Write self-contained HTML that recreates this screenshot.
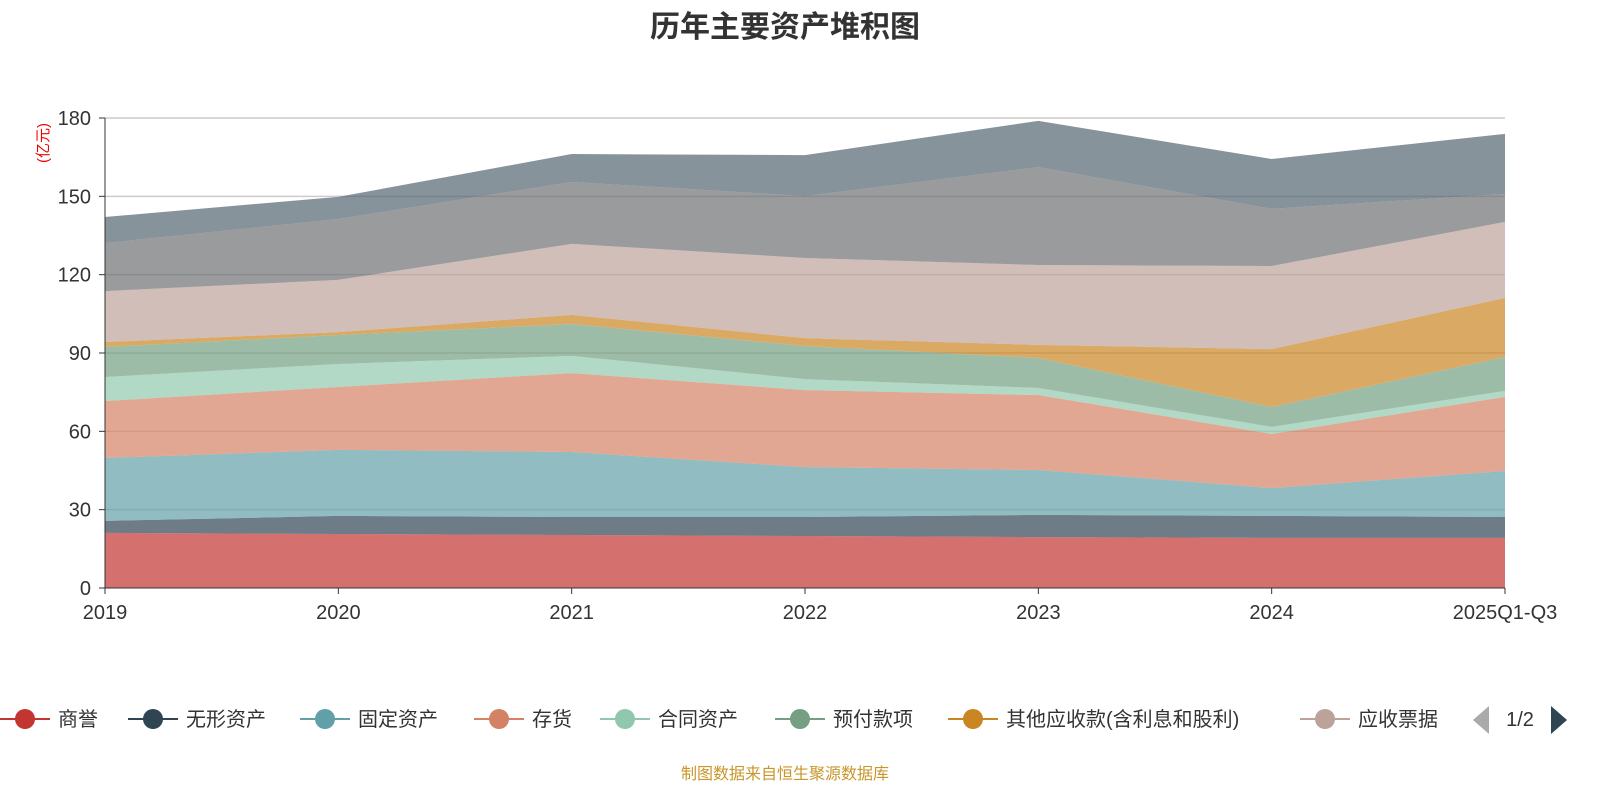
<!DOCTYPE html>
<html><head><meta charset="utf-8">
<style>
body{margin:0;background:#fff;width:1600px;height:800px;overflow:hidden;font-family:"Liberation Sans","Noto Sans CJK SC",sans-serif;}
</style></head>
<body>
<svg id="chart" width="1600" height="800" xmlns="http://www.w3.org/2000/svg" font-family="Liberation Sans, Noto Sans CJK SC, sans-serif">
<text x="785" y="37" text-anchor="middle" font-size="30" font-weight="bold" fill="#333">历年主要资产堆积图</text>
<text transform="translate(48,143) rotate(-90)" text-anchor="middle" font-size="15" fill="#e00">(亿元)</text>
<g id="grid"></g><g id="areas"></g><g id="axes"></g><g id="legend"></g>
<text x="785" y="779" text-anchor="middle" font-size="16" fill="#c8962a">制图数据来自恒生聚源数据库</text>
</svg>
<script>
const categories=["2019","2020","2021","2022","2023","2024","2025Q1-Q3"];
const seriesNames=["商誉","无形资产","固定资产","存货","合同资产","预付款项","其他应收款(含利息和股利)","应收票据","其他资产A","其他资产B"];
const s0=[21.1,20.7,20.3,19.9,19.5,19.2,19.2];
const s1=[4.6,6.9,6.9,7.3,8.5,8.4,8.0];
const s2=[24.1,25.3,24.9,19.1,17.2,10.7,17.6];
const s3=[21.8,24.1,30.2,29.5,28.7,20.7,28.4];
const s4=[9.2,8.8,6.6,4.2,2.7,2.7,2.3];
const s5=[11.5,11.1,12.2,12.7,11.5,7.6,13.0];
const s6=[1.9,1.1,3.5,3.0,5.0,22.2,22.6];
const s7=[19.5,20.0,27.2,30.7,30.6,31.8,29.1];
const s8=[18.4,23.3,23.7,23.7,37.5,21.9,10.7];
const s9=[10.0,8.5,10.7,15.7,17.7,19.1,23.0];
const yTicks=[0,30,60,90,120,150,180];
const series=[s0,s1,s2,s3,s4,s5,s6,s7,s8,s9];
const colors=["#c23531","#2f4554","#61a0a8","#d48265","#91c7ae","#749f83","#ca8622","#bda29a","#6e7074","#546570"];
const NS="http://www.w3.org/2000/svg";
const x0=105,x1=1505,yb=588,yt=118;
const xs=i=>x0+(x1-x0)*i/(categories.length-1);
const ys=v=>yb-(yb-yt)*v/180;
function mk(t,a,p){const e=document.createElementNS(NS,t);for(const k in a)e.setAttribute(k,a[k]);p.appendChild(e);return e;}
const grid=document.getElementById('grid'),axes=document.getElementById('axes'),areas=document.getElementById('areas'),leg=document.getElementById('legend');
yTicks.forEach(v=>{
 if(v>0){const l=mk('line',{x1:x0,x2:x1,y1:ys(v),y2:ys(v),stroke:'#ccc','stroke-width':1.5},grid);
 
 }
 const t=mk('text',{x:x0-14,y:ys(v)+7,'text-anchor':'end','font-size':20,fill:'#333'},axes);t.textContent=v;
 
 
 mk('line',{x1:x0-6,x2:x0,y1:ys(v),y2:ys(v),stroke:'#333'},axes);
});
let base=categories.map(()=>0);
series.forEach((s,k)=>{
 const top=base.map((b,i)=>b+s[i]);
 let d='M'+top.map((v,i)=>xs(i)+','+ys(v)).join('L');
 for(let i=categories.length-1;i>=0;i--)d+='L'+xs(i)+','+ys(base[i]);
 const p=mk('path',{d:d+'Z',fill:colors[k],'fill-opacity':0.7,stroke:'none'},areas);
 
 
 base=top;
});
mk('line',{x1:x0,x2:x0,y1:yt,y2:yb,stroke:'#333'},axes);
mk('line',{x1:x0,x2:x1,y1:yb,y2:yb,stroke:'#333'},axes);
categories.forEach((c,i)=>{
 mk('line',{x1:xs(i),x2:xs(i),y1:yb,y2:yb+6,stroke:'#333'},axes);
 const t=mk('text',{x:xs(i),y:yb+31,'text-anchor':'middle','font-size':20,fill:'#333'},axes);t.textContent=c;
 
 
});
const legX=[0,128,300,474,600,775,948,1300];
seriesNames.slice(0,8).forEach((n,k)=>{
 const g=mk('g',{},leg);
 
 
 const x=legX[k];
 mk('line',{x1:x,x2:x+50,y1:719,y2:719,stroke:colors[k],'stroke-width':2},g);
 mk('circle',{cx:x+25,cy:719,r:10,fill:colors[k]},g);
 const t=mk('text',{x:x+58,y:726,'font-size':20,fill:'#333'},g);t.textContent=n;
});
const pl=mk('path',{d:'M1489,706L1473,720L1489,734Z',fill:'#aaa'},leg);


const pt=mk('text',{x:1520,y:726,'text-anchor':'middle','font-size':20,fill:'#333'},leg);pt.textContent='1/2';


const pn=mk('path',{d:'M1551,706L1567,720L1551,734Z',fill:'#2f4554'},leg);


</script>
</body></html>
